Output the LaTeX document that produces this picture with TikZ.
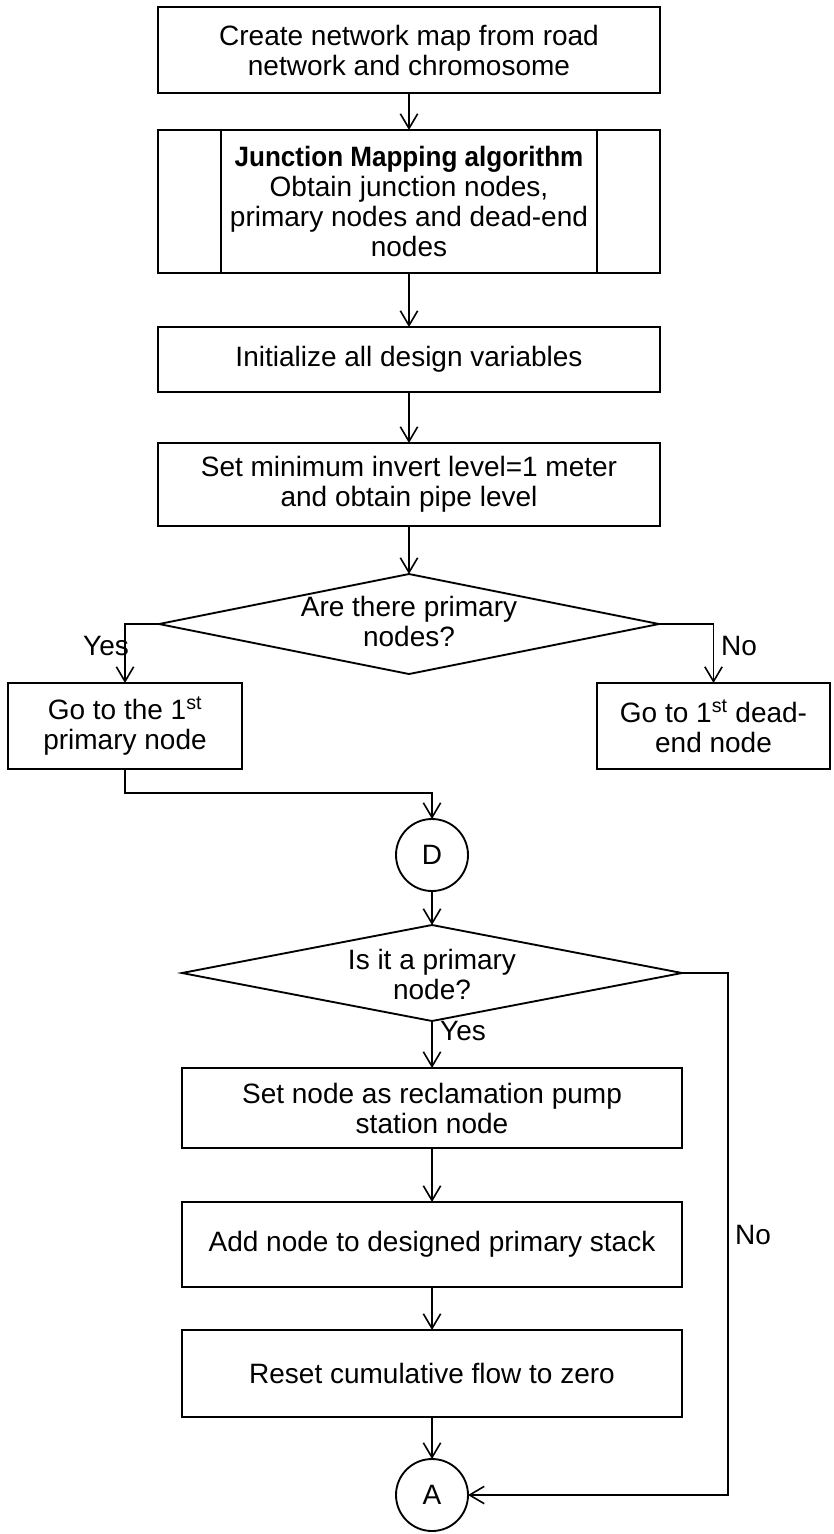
\documentclass[tikz,border=0pt]{standalone}
\usepackage{graphicx}
\usepackage{fontspec}
\setmainfont{Liberation Sans}
\usetikzlibrary{shapes.geometric,arrows.meta,calc}
\begin{document}
\begin{tikzpicture}[x=0.75pt,y=-0.75pt,
  every node/.style={font=\fontsize{21}{22.5}\selectfont},
  lw/.style={line width=1.4pt},
  box/.style={lw,draw,rectangle,align=center,inner sep=0pt,outer sep=0pt},
  dia/.style={lw,draw,diamond,inner sep=0pt,outer sep=0pt,minimum width=375pt},
  conn/.style={lw,draw,circle,inner sep=0pt,outer sep=0pt,minimum size=54pt},
  txt/.style={align=center,inner sep=0pt},
  arr/.style={lw,-{Straight Barb[length=11pt,width=13pt,line width=1.2pt]}},
  plain/.style={lw}
]
\useasboundingbox (0,0) rectangle (833,1534);

\node[box,minimum width=376.5pt,minimum height=65pt] (b1) at (409,50)
  {Create network map from road\\network and chromosome};
\node[box,minimum width=376.5pt,minimum height=107.25pt] (b2) at (409,201.5)
  {\scalebox{0.93}[1]{\textbf{Junction Mapping algorithm}}\\Obtain junction nodes,\\primary nodes and dead-end\\nodes};
\draw[plain] ([xshift=47.25pt]b2.north west) -- ([xshift=47.25pt]b2.south west);
\draw[plain] ([xshift=-47.25pt]b2.north east) -- ([xshift=-47.25pt]b2.south east);
\node[box,minimum width=376.5pt,minimum height=48.75pt] (b3) at (409,359.5)
  {Initialize all design variables};
\node[box,minimum width=376.5pt,minimum height=62.25pt] (b4) at (409,484.5)
  {Set minimum invert level=1 meter\\and obtain pipe level};

\node[dia,minimum height=75pt] (d1) at (409,624) {};
\node[txt] (d1t) at (409,621) {Are there primary\\nodes?};

\node[box,minimum width=175.5pt,minimum height=64.5pt] (lb) at (125,726)
  {Go to the 1\textsuperscript{st}\\primary node};
\node[box,minimum width=174.75pt,minimum height=64.5pt] (rb) at (713.5,726)
  {Go to 1\textsuperscript{st} dead-\\end node};

\node[txt] (yes1) at (106,646) {Yes};
\node[txt] (no1) at (739,646) {No};

\node[conn] (D) at (432,855) {D};
\node[dia,minimum height=72pt] (d2) at (432,973) {};
\node[txt] (d2t) at (432,974) {Is it a primary\\node?};
\node[txt] (yes2) at (463,1031) {Yes};

\node[box,minimum width=375pt,minimum height=60pt] (b5) at (432,1108)
  {Set node as reclamation pump\\station node};
\node[box,minimum width=375pt,minimum height=63.75pt] (b6) at (432,1244.5)
  {Add node to designed primary stack};
\node[box,minimum width=375pt,minimum height=65.25pt] (b7) at (432,1373.5)
  {Reset cumulative flow to zero};
\node[conn] (A) at (432,1495) {A};
\node[txt] (no2) at (753,1235) {No};

\coordinate (nc) at (728,973);

\draw[arr] (b1.south) -- (b2.north);
\draw[arr] (b2.south) -- (b3.north);
\draw[arr] (b3.south) -- (b4.north);
\draw[arr] (b4.south) -- (d1.north);
\draw[arr] (d1.west) -| (lb.north);
\draw[arr] (d1.east) -| (rb.north);
\draw[arr] (lb.south) -- ++(0,24) -| (D.north);
\draw[arr] (D.south) -- (d2.north);
\draw[arr] (d2.south) -- (b5.north);
\draw[arr] (b5.south) -- (b6.north);
\draw[arr] (b6.south) -- (b7.north);
\draw[arr] (b7.south) -- (A.north);
\draw[arr] (d2.east) -- (nc) |- (A.east);
\end{tikzpicture}
\end{document}
